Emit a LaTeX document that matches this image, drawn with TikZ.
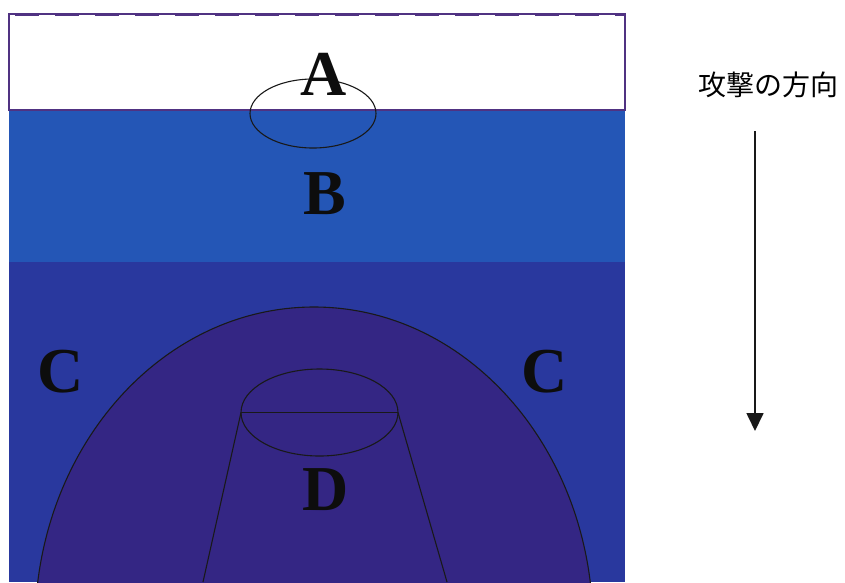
\documentclass[tikz,border=0pt]{standalone}
\usepackage{fontspec}
\setmainfont{Liberation Serif}
\newfontfamily\cjkfont{Noto Sans CJK JP}
\usetikzlibrary{arrows.meta}
\definecolor{zoneB}{RGB}{36,86,182}
\definecolor{zoneC}{RGB}{41,56,158}
\definecolor{zoneD}{RGB}{52,38,132}
\definecolor{edgeP}{RGB}{80,50,130}
\tikzset{
  letter/.style={anchor=base,inner sep=0pt,text=black!95,font=\fontsize{64}{64}\selectfont\bfseries},
  thin line/.style={draw=black!90,line width=1.1pt},
  caption/.style={anchor=center,inner sep=0pt,font=\cjkfont\fontsize{28}{28}\selectfont}
}
\begin{document}
\begin{tikzpicture}[x=1pt,y=-1pt]
\useasboundingbox (0,0) rectangle (845,582);
% zones
\fill[zoneB] (9,110) rectangle (625,262);
\fill[zoneC] (9,262) rectangle (625,582);
\begin{scope}
  \clip (9,262) rectangle (625,582);
  \path[fill=zoneD,thin line] (314,627) ellipse [x radius=279,y radius=320];
\end{scope}
% frame
\draw[edgeP,line width=1.2pt] (9,110) -- (9,14) -- (625,14) -- (625,110) -- cycle;
\draw[edgeP,line width=2pt,dash pattern=on 24pt off 16pt] (15,15) -- (625,15);
% ellipses and key
\draw[thin line] (313,113.5) ellipse [x radius=63,y radius=34.5];
\draw[thin line] (319.5,412.5) ellipse [x radius=78.5,y radius=43.5];
\coordinate (keyL) at (241,412.5);
\coordinate (keyR) at (398,412.5);
\coordinate (baseL) at (203,582);
\coordinate (baseR) at (447,582);
\draw[thin line,line width=1.4pt] (keyL) -- (keyR);
\draw[thin line] (keyL) -- (baseL);
\draw[thin line] (keyR) -- (baseR);
% letters
\node[letter] (la) at (324,95) {A};
\node[letter] (lb) at (325,214) {B};
\node[letter] (lc1) at (61,392) {C};
\node[letter] (lc2) at (545,392) {C};
\node[letter] (ld) at (326,510) {D};
% direction
\node[caption] (cap) at (768,85) {攻撃の方向};
\coordinate (arrS) at (755,131);
\coordinate (arrE) at (755,431);
\draw[black!90,line width=1.7pt,-{Triangle[length=18pt,width=17pt]}] (arrS) -- (arrE);
\end{tikzpicture}
\end{document}
